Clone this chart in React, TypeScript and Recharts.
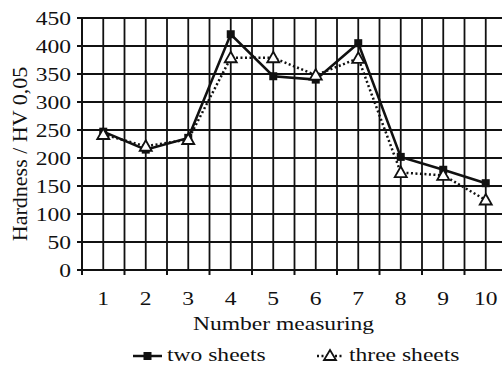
import React from 'react';
import { LineChart, Line, XAxis, YAxis, CartesianGrid, Legend } from 'recharts';

const measurements = [1, 2, 3, 4, 5, 6, 7, 8, 9, 10];
const twoSheets = [247, 215, 236, 421, 346, 340, 405, 202, 179, 155];
const threeSheets = [242, 221, 233, 379, 379, 348, 378, 174, 169, 125];
const hardnessTicks = [0, 50, 100, 150, 200, 250, 300, 350, 400, 450];

const data = measurements.map((n, i) => ({
  n,
  two: twoSheets[i],
  three: threeSheets[i],
}));

// grid lines sit on every measurement and halfway between them
const xTicks = measurements
  .flatMap((n) => [n - 0.5, n])
  .concat(measurements[measurements.length - 1] + 0.5);

const FONT = '"Liberation Serif", "Times New Roman", serif';
const STRETCH = 1.24; // the source figure is stretched sideways
const INK = '#111';

function XTick({ x, y, payload }: any) {
  const v = payload.value;
  if (!Number.isInteger(v)) {
    return <line x1={x} x2={x} y1={y - 5} y2={y} stroke={INK} strokeWidth={2} />;
  }
  return (
    <text
      transform={`translate(${x},${y + 30}) scale(${STRETCH},1)`}
      textAnchor="middle"
      fontSize={19}
      fontFamily={FONT}
      fill={INK}
    >
      {v}
    </text>
  );
}

function YTick({ x, y, payload }: any) {
  return (
    <text
      transform={`translate(${x},${y}) scale(${STRETCH},1)`}
      textAnchor="end"
      dy="0.35em"
      fontSize={19}
      fontFamily={FONT}
      fill={INK}
    >
      {payload.value}
    </text>
  );
}

function YTitle({ viewBox }: any) {
  const cx = viewBox.x + 11;
  const cy = viewBox.y + viewBox.height / 2 + 10;
  return (
    <text
      x={cx}
      y={cy}
      transform={`rotate(-90 ${cx} ${cy})`}
      textAnchor="middle"
      dominantBaseline="central"
      fontSize={22}
      fontFamily={FONT}
      fill={INK}
    >
      Hardness / HV 0,05
    </text>
  );
}

function XTitle({ viewBox }: any) {
  const cx = viewBox.x + viewBox.width / 2 - 11;
  const cy = viewBox.y + 60;
  return (
    <text
      transform={`translate(${cx},${cy}) scale(${STRETCH},1)`}
      textAnchor="middle"
      fontSize={19}
      fontFamily={FONT}
      fill={INK}
    >
      Number measuring
    </text>
  );
}

const Square = (p: any) => (
  <rect key={`sq${p.index}`} x={p.cx - 4} y={p.cy - 4} width={8} height={8} fill={INK} />
);

const Triangle = (p: any) => (
  <polygon
    key={`tr${p.index}`}
    points={`${p.cx},${p.cy - 6} ${p.cx + 6},${p.cy + 4.5} ${p.cx - 6},${p.cy + 4.5}`}
    fill="#fff"
    stroke={INK}
    strokeWidth={1.8}
    strokeLinejoin="miter"
  />
);

const legendSlots: Record<string, { icon: number; text: number; w: number }> = {
  two: { icon: 133, text: 167, w: 29 },
  three: { icon: 317, text: 349, w: 26 },
};

function LegendContent({ payload }: any) {
  const items = payload || [];
  const cy = 26;
  return (
    <svg width={502} height={35} style={{ display: 'block', overflow: 'visible' }}>
      {items.map((item: any) => {
        const s = legendSlots[item.dataKey] || legendSlots.two;
        const dotted = item.dataKey === 'three';
        const mid = s.icon + s.w / 2;
        return (
          <g key={item.dataKey}>
            <line
              x1={s.icon}
              x2={s.icon + s.w}
              y1={cy}
              y2={cy}
              stroke={INK}
              strokeWidth={2.5}
              strokeDasharray={dotted ? '2 2.5' : undefined}
            />
            {dotted ? (
              <polygon
                points={`${mid},${cy - 6} ${mid + 6},${cy + 4} ${mid - 6},${cy + 4}`}
                fill="#fff"
                stroke={INK}
                strokeWidth={1.8}
              />
            ) : (
              <rect x={mid - 4} y={cy - 4} width={8} height={8} fill={INK} />
            )}
            <text
              transform={`translate(${s.text},${cy + 5}) scale(${STRETCH},1)`}
              fontSize={19}
              fontFamily={FONT}
              fill={INK}
            >
              {item.value}
            </text>
          </g>
        );
      })}
    </svg>
  );
}

export default function App() {
  return (
    <div style={{ width: 502, height: 365, overflow: 'hidden', background: '#fff' }}>
      <style>{'body{margin:0}'}</style>
      <LineChart
        width={502}
        height={365}
        data={data}
        margin={{ top: 18, right: -5, bottom: 0, left: 8 }}
      >
        <CartesianGrid stroke={INK} strokeWidth={1.8} />
        <XAxis
          dataKey="n"
          type="number"
          domain={[0.5, 10.5]}
          ticks={xTicks}
          interval={0}
          tickLine={false}
          tickSize={5}
          tickMargin={0}
          height={60}
          axisLine={{ stroke: INK, strokeWidth: 2 }}
          tick={<XTick />}
          label={<XTitle />}
        />
        <YAxis
          domain={[0, 450]}
          ticks={hardnessTicks}
          interval={0}
          width={74}
          tickSize={5}
          tickMargin={6}
          tickLine={{ stroke: INK, strokeWidth: 2 }}
          axisLine={{ stroke: INK, strokeWidth: 2 }}
          tick={<YTick />}
          label={<YTitle />}
        />
        <Legend
          verticalAlign="bottom"
          height={35}
          wrapperStyle={{ left: 0, top: 330, bottom: 'auto', width: 502, height: 35 }}
          content={<LegendContent />}
        />
        <Line
          dataKey="two"
          name="two sheets"
          stroke={INK}
          strokeWidth={2.5}
          dot={Square}
          activeDot={false}
          isAnimationActive={false}
        />
        <Line
          dataKey="three"
          name="three sheets"
          stroke={INK}
          strokeWidth={2.5}
          strokeDasharray="2 2.5"
          dot={Triangle}
          activeDot={false}
          isAnimationActive={false}
        />
      </LineChart>
    </div>
  );
}
